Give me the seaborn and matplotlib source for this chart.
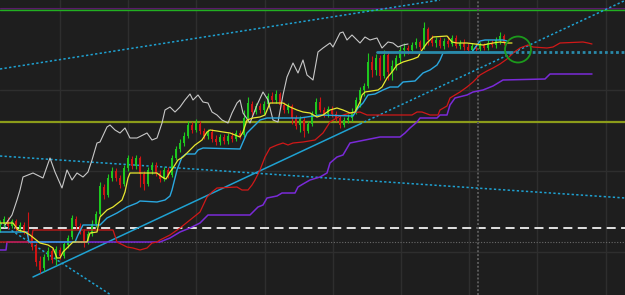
import numpy as np
import pandas as pd
import matplotlib
matplotlib.use("Agg")
import matplotlib.pyplot as plt
from matplotlib.patches import Ellipse
import seaborn as sns

# ---------------- candles (bar index, price) ----------------
open_ = [72, 76, 80, 74, 79, 71, 75, 69, 64, 54,
         39, 32, 43, 49, 41, 50, 44, 55, 63, 81,
         74, 69, 59, 66, 76, 86, 113, 105, 122, 129,
         122, 116, 132, 141, 134, 142, 126, 116, 130, 135,
         127, 121, 130, 125, 142, 151, 157, 164, 175, 170,
         176, 169, 164, 168, 161, 158, 163, 159, 164, 161,
         167, 165, 182, 196, 188, 194, 190, 196, 204, 200,
         206, 195, 190, 194, 182, 175, 180, 169, 176, 186,
         198, 190, 186, 191, 186, 182, 175, 180, 182, 188,
         200, 210, 214, 238, 230, 242, 224, 245, 228, 234,
         242, 250, 252, 250, 255, 258, 253, 271, 260, 257,
         260, 254, 259, 256, 262, 254, 257, 253, 250, 254,
         251, 255, 252, 257, 255, 260, 264]
close = [76, 81, 74, 79, 71, 75, 69, 64, 53, 38,
         30, 43, 49, 40, 51, 44, 56, 62, 82, 74,
         69, 58, 66, 76, 86, 114, 105, 122, 129, 122,
         115, 132, 142, 134, 142, 126, 116, 130, 135, 127,
         121, 130, 125, 142, 151, 157, 164, 175, 170, 177,
         169, 164, 168, 161, 158, 163, 159, 164, 161, 167,
         164, 182, 197, 188, 194, 190, 196, 204, 200, 206,
         195, 190, 194, 182, 174, 181, 169, 176, 186, 198,
         190, 186, 191, 186, 182, 175, 180, 182, 188, 200,
         210, 214, 238, 230, 242, 224, 245, 228, 234, 242,
         250, 252, 250, 255, 258, 253, 272, 260, 257, 260,
         254, 259, 256, 262, 254, 257, 253, 250, 254, 251,
         255, 252, 257, 255, 260, 264, 258]
high = [80, 84, 83, 81, 81, 78, 78, 88, 67, 57,
        44, 46, 53, 52, 54, 53, 58, 65, 85, 84,
        77, 71, 69, 80, 89, 118, 116, 126, 133, 132,
        125, 135, 145, 144, 145, 144, 129, 133, 138, 138,
        130, 133, 133, 145, 154, 161, 168, 179, 178, 181,
        179, 172, 171, 171, 165, 166, 166, 167, 168, 170,
        170, 190, 203, 199, 197, 197, 199, 207, 208, 210,
        208, 198, 197, 196, 185, 184, 183, 179, 189, 202,
        203, 193, 194, 194, 189, 185, 183, 186, 192, 203,
        213, 217, 247, 244, 246, 245, 250, 248, 240, 245,
        254, 257, 255, 258, 262, 260, 278, 273, 265, 263,
        263, 262, 264, 265, 265, 260, 261, 257, 257, 257,
        258, 257, 260, 260, 263, 268, 266]
low = [68, 73, 71, 72, 69, 68, 66, 57, 50, 34,
       27, 29, 40, 37, 35, 41, 42, 52, 61, 71,
       66, 53, 56, 64, 73, 84, 101, 103, 119, 119,
       112, 114, 129, 131, 131, 113, 110, 114, 126, 124,
       118, 119, 122, 123, 140, 148, 154, 162, 167, 168,
       166, 161, 161, 158, 155, 155, 156, 156, 158, 159,
       161, 163, 180, 184, 186, 187, 186, 194, 197, 197,
       192, 187, 187, 176, 171, 168, 163, 167, 174, 184,
       188, 183, 183, 183, 179, 172, 173, 177, 179, 186,
       193, 204, 212, 223, 225, 220, 222, 220, 220, 230,
       237, 244, 246, 247, 252, 250, 251, 255, 254, 253,
       252, 251, 253, 254, 252, 251, 250, 247, 248, 249,
       249, 250, 250, 253, 252, 256, 255]

# ---------------- indicator lines ----------------
chikou_x = [1.25, 3, 4.25, 5, 5.75, 8.25, 10.75, 12.5, 13.75, 15.5, 16.75, 18, 19.25, 20.75,
            22, 23, 24.25, 25, 26.75, 27.5, 28.75, 30, 31.25, 32.5, 34.25, 36.75, 38, 39.25,
            40.5, 41.25, 42.5, 43.75, 45, 46.25, 47.5, 48.25, 49.5, 50.75, 52, 53, 54.25, 55.5,
            57, 58, 59.25, 60, 60.75, 62.5, 64.25, 65.75, 67, 68.25, 69.5, 70.75, 71.75, 73.25,
            74.5, 75.75, 76.75, 78.25, 79.5, 80.75, 82.5, 83.25, 85, 85.75, 86.75, 88, 88.75,
            90, 91.25, 92.5, 94.25, 95.5, 97, 98.25, 99.5, 100.75, 102]
chikou_y = [75, 85, 100, 110, 123, 127, 122, 142, 128, 112, 130, 120, 127, 123,
            128, 140, 157, 158, 173, 175, 170, 167, 172, 162, 162, 167, 160, 162,
            177, 190, 193, 188, 193, 200, 206, 200, 205, 198, 197, 188, 185, 180,
            177, 187, 197, 200, 187, 177, 195, 208, 200, 180, 178, 205, 223, 237,
            227, 240, 225, 220, 248, 252, 257, 253, 267, 268, 260, 265, 262,
            257, 263, 260, 262, 252, 258, 257, 253, 255, 256]

tenkan_x = [0, 3.25, 4.5, 6.25, 7.5, 10, 12, 13.25, 14.25, 15, 15.75, 17, 18.25, 21.75,
            22.5, 24.25, 25, 26.75, 28.25, 30.5, 31.25, 32, 32.5, 39.25, 40.5, 41.5, 42.5,
            43.25, 44.5, 45.75, 47.5, 48.75, 50.5, 51.75, 52.5, 54.25, 55.75, 57.5, 58.75,
            60, 60.75, 61.75, 63.25, 65, 66.25, 67.5, 70.75, 72.5, 74.25, 75.75, 77.5, 79.25,
            80.75, 82.5, 84.25, 85.75, 87.5, 88.75, 89.25, 90, 90.5, 91.25, 94.5, 95.5, 96.75,
            98, 99.25, 100.75, 103.25, 104.5, 105.5, 106.75, 108.25, 111.75, 113, 114.25,
            116.75, 118.75, 120.75, 123.25, 125, 126.75, 128]
tenkan_y = [77, 77, 70, 68, 65, 57, 55, 52, 42, 42, 48, 53, 58, 58,
            67, 68, 83, 90, 93, 100, 108, 122, 127, 127, 123, 121, 128,
            132, 140, 143, 150, 155, 160, 168, 170, 169, 168, 167, 165,
            163, 168, 180, 182, 183, 185, 197, 197, 193, 190, 188, 187, 183,
            185, 190, 192, 190, 187, 188, 192, 198, 205, 208, 210, 213, 222,
            228, 235, 238, 241, 243, 250, 257, 263, 264, 258, 257,
            257, 256, 255, 257, 258, 257, 257]

kijun_x = [0, 6.75, 7.25, 18.75, 19.5, 20.75, 25, 26.75, 28.25, 29.25, 31.75, 34.25, 35,
           39.25, 41.25, 42.5, 43, 44.25, 45.5, 46.5, 48.75, 49.5, 50.75, 60, 60.75, 61.75,
           63, 64.25, 65, 66.75, 75, 80, 88.25, 89.5, 90.75, 92, 93.75, 95.75, 97.5, 99.5,
           100.75, 103.75, 104.5, 105.75, 107.5, 109.25, 110, 110.75, 112.5, 118, 119.25,
           120, 121.25, 125.75, 126.75]
kijun_y = [68, 68, 58, 58, 65, 75, 75, 82, 85, 87, 93, 97, 99,
           98, 100, 104, 110, 130, 143, 146, 146, 150, 152, 151, 158, 167,
           172, 177, 180, 182, 182, 185, 184, 192, 197, 205, 206, 210, 213, 213,
           218, 219, 222, 227, 230, 235, 240, 247, 248, 248, 255,
           259, 260, 260, 259]

senkou_a_x = [0, 7.75, 8.25, 28.25, 29.25, 31.75, 33.25, 35, 36.75, 38, 39.25, 40, 42.5, 45,
              47.5, 50, 51.75, 53, 54.25, 59.25, 60.5, 62, 63, 63.75, 65, 66.25, 67.5, 69.25,
              70.75, 72, 73.25, 75.75, 78.75, 80.75, 82.5, 85, 87.5, 90, 91.75, 103, 104.25,
              105.5, 107.5, 109.5, 110, 111.75, 112.5, 115, 116.75, 118.25, 120, 121.75,
              123.25, 125, 126.75, 128.25, 130, 132, 133.25, 136.75, 138.25, 140, 145.75,
              147, 148]
senkou_a_y = [58, 58, 70, 70, 58, 53, 52, 50, 52, 57, 58, 60, 65, 72,
              80, 88, 103, 108, 112, 113, 110, 110, 115, 120, 130, 143, 152, 155,
              157, 155, 157, 158, 160, 167, 178, 184, 187, 188, 185, 185, 188,
              188, 185, 185, 190, 194, 202, 208, 213, 218, 225, 229,
              232, 236, 241, 247, 252, 255, 253, 252, 253, 257, 258,
              257, 256]

senkou_b_x = [0, 1.5, 1.75, 28.25, 40, 42.5, 45, 47.5, 50, 50.75, 52, 62.5, 63.25, 64.5,
              65.75, 66.75, 69.25, 70.5, 73.75, 74.5, 75.75, 77.5, 80, 81.75, 82.5, 84.25,
              85.75, 87.5, 91.25, 95, 100, 101.25, 102.5, 104.25, 105, 109.25, 110, 111.75,
              112.5, 113.75, 116.75, 118.25, 120.75, 123.25, 125.75, 136.25, 137.5, 148]
senkou_b_y = [50, 50, 58, 58, 58, 62, 68, 72, 77, 80, 85, 85, 88, 93,
              95, 102, 104, 107, 107, 113, 116, 120, 123, 127, 137, 143,
              145, 157, 160, 163, 163, 167, 172, 178, 182, 182, 185, 185,
              195, 202, 205, 208, 210, 214, 220, 221, 226, 226]

# ---------------- drawn objects (anchors) ----------------
trend_solid_x, trend_solid_y = [8.25, 90], [23, 176]
trend_dot_x, trend_dot_y = [90, 156.5], [176, 300]
top_dot_x, top_dot_y = [0, 110], [231, 300]
mid_dot_x, mid_dot_y = [0, 156.25], [144, 102]
steep_dot_x, steep_dot_y = [0, 27.75], [77, 5]
teal_level, teal_start, teal_split = 248, 94.25, 127.5
olive_level = 178
white_dash_level = 72
gray_dot_level = 58
top_green_level, top_purple_level = 290.5, 292
now_marker = 119.5
circle_center = (129.5, 250.5)

BG = "#1e1e1e"
GRID = "#2e2e2e"
GREEN = "#1ec81e"
RED = "#d01414"
CYAN = "#1fa2d2"

sns.set_theme(style="dark", rc={"axes.facecolor": BG, "figure.facecolor": BG,
                                "grid.color": GRID})

fig = plt.figure(figsize=(6.25, 2.95), dpi=100)
ax = fig.add_axes([0, 0, 1, 1])
ax.set_facecolor(BG)
ax.set_xlim(0, 156.25)
ax.set_ylim(5, 300)
ax.set_xticks(np.arange(15, 156, 17.05))
ax.set_yticks(np.arange(48, 300, 81))
ax.grid(True, color=GRID, lw=1.0, zorder=0)
ax.tick_params(left=False, bottom=False, labelleft=False, labelbottom=False)
for s in ax.spines.values():
    s.set_visible(False)
ax.set_axisbelow(True)

# horizontal levels
ax.axhline(top_purple_level, color="#5a1a6a", lw=0.8, zorder=1)
ax.axhline(top_green_level, color="#22b022", lw=1.0, zorder=1)
ax.axhline(olive_level, color="#8c9c1a", lw=1.6, zorder=1)
ax.axhline(white_dash_level, color="#f0f0f0", lw=1.3, ls=(0, (5, 3)), zorder=1)
ax.axhline(gray_dot_level, color="#6a6a6a", lw=0.8, ls=(0, (1, 1.5)), zorder=1)
ax.axvline(now_marker, color="#5a5a5a", lw=1.4, ls=(0, (1, 1)), zorder=1)

# trend lines
sns.lineplot(x=trend_solid_x, y=trend_solid_y, ax=ax, color=CYAN, lw=1.1, zorder=2)
for xs, ys in [(trend_dot_x, trend_dot_y), (top_dot_x, top_dot_y),
               (mid_dot_x, mid_dot_y), (steep_dot_x, steep_dot_y)]:
    sns.lineplot(x=xs, y=ys, ax=ax, color=CYAN, lw=1.1, ls=(0, (1.5, 1.5)), zorder=2)

# candles
bars = np.arange(len(open_))
o = np.array(open_, float)
c = np.array(close, float)
cols = np.where(c >= o, GREEN, RED)
ax.vlines(bars, low, high, colors=cols, lw=0.8, zorder=3)
ax.bar(bars, np.maximum(np.abs(c - o), 0.8), bottom=np.minimum(o, c), width=0.6,
       color=cols, lw=0, zorder=3)

# ichimoku lines
sns.lineplot(x=senkou_b_x, y=senkou_b_y, ax=ax, color="#7a2ad8", lw=1.1,
             estimator=None, sort=False, zorder=4)
sns.lineplot(x=senkou_a_x, y=senkou_a_y, ax=ax, color="#d01818", lw=0.9,
             estimator=None, sort=False, zorder=4)
sns.lineplot(x=chikou_x, y=chikou_y, ax=ax, color="#c8c8c8", lw=0.8,
             estimator=None, sort=False, zorder=4)
sns.lineplot(x=kijun_x, y=kijun_y, ax=ax, color="#2aa8e0", lw=1.0,
             estimator=None, sort=False, zorder=5)
sns.lineplot(x=tenkan_x, y=tenkan_y, ax=ax, color="#e8e830", lw=0.9,
             estimator=None, sort=False, zorder=5)

# horizontal teal level
ax.plot([teal_start, teal_split], [teal_level, teal_level], color="#2a8aaa", lw=2.0, zorder=5)
ax.plot([teal_split, 156.25], [teal_level, teal_level], color="#2a8aaa", lw=2.0,
        ls=(0, (1, 1)), zorder=5)

# highlight circle
ax.add_patch(Ellipse(circle_center, width=6.5, height=26, fill=False,
                     edgecolor="#1c9a1c", lw=1.3, zorder=6))

fig.savefig("out.png", dpi=100, facecolor=BG)
